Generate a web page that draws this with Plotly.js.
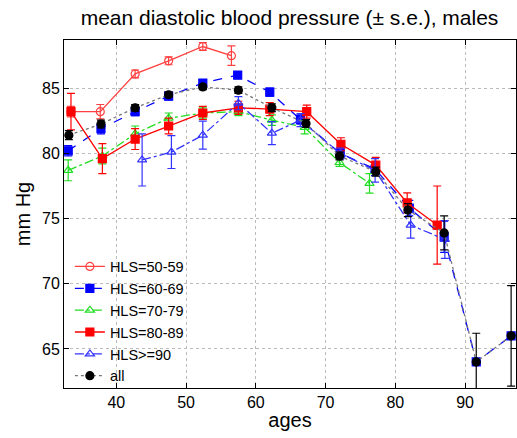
<!DOCTYPE html>
<html>
<head>
<meta charset="utf-8">
<script src="https://cdn.plot.ly/plotly-3.0.1.min.js"></script>
<style>html,body{margin:0;padding:0;background:#fff;}#chart{width:517px;height:438px;}</style>
</head>
<body>
<div id="chart"></div>
<script>
// HLS=50-59
const x5059 = [33.5, 37.7, 42.7, 47.5, 52.4, 56.5];
const y5059 = [83.2, 83.2, 86.1, 87.1, 88.2, 87.5];
const e5059 = [0.4, 0.55, 0.3, 0.3, 0.3, 0.75];
// HLS=60-69
const x6069 = [33.1, 37.8, 42.7, 47.5, 52.4, 57.4, 62.0, 66.4, 72.1, 77.1, 82.0, 87.0, 91.6, 96.6];
const y6069 = [80.2, 81.9, 83.2, 84.4, 85.4, 86.0, 84.7, 82.6, 80.0, 78.8, 75.8, 73.6, 64.0, 66.0];
const e6069 = [0.4, 0.4, 0.3, 0.3, 0.25, 0.25, 0.3, 0.35, 0.4, 0.5, 0.6, 1.2, 0, 0];
// HLS=70-79
const x7079 = [33.1, 38.0, 42.7, 47.5, 52.4, 57.5, 62.3, 67.0, 72.0, 76.3];
const y7079 = [78.7, 79.8, 81.5, 82.7, 83.1, 83.2, 82.55, 82.0, 79.3, 77.7];
const e7079 = [0.8, 0.6, 0.6, 0.4, 0.4, 0.3, 0.4, 0.5, 0.3, 0.75];
// HLS=80-89
const x8089 = [33.5, 38.0, 42.7, 47.5, 52.4, 57.5, 62.0, 67.3, 72.2, 77.2, 81.7, 86.0];
const y8089 = [83.2, 79.6, 81.1, 82.1, 83.1, 83.5, 83.4, 83.2, 80.7, 79.1, 76.2, 74.5];
const e8089 = [1.4, 1.15, 0.8, 0.6, 0.5, 0.5, 0.5, 0.5, 0.5, 0.6, 0.77, 3.0];
// HLS>=90
const x90 = [43.7, 47.9, 52.4, 57.5, 62.3, 66.4, 72.1, 77.1, 82.2, 87.1];
const y90 = [79.5, 80.1, 81.4, 83.85, 81.55, 82.55, 80.0, 78.7, 74.5, 73.4];
const e90 = [2.0, 1.26, 1.07, 0.5, 0.88, 0.5, 0.4, 0.9, 1.0, 1.45];
// all
const xAll = [33.2, 37.8, 42.7, 47.5, 52.4, 57.5, 62.3, 67.2, 72.0, 77.2, 81.8, 87.0, 91.6, 96.6];
const yAll = [81.4, 82.25, 83.5, 84.5, 85.1, 84.85, 83.5, 82.3, 79.8, 78.6, 75.65, 73.9, 64.0, 66.0];
const eAll = [0.35, 0.3, 0.25, 0.2, 0.2, 0.25, 0.3, 0.3, 0.3, 0.35, 0.5, 1.3, 2.2, 3.85];

function tr(name, x, y, e, color, dash, symbol, lineColor) {
  return {
    type: 'scatter', mode: 'lines+markers', name: name, x: x, y: y,
    line: {color: lineColor || color, width: 1.3, dash: dash},
    marker: {color: color, symbol: symbol, size: 8, line: {color: color, width: 1.2}},
    error_y: {type: 'data', array: e, visible: true, color: color, thickness: 1.2, width: 4},
    cliponaxis: true
  };
}

const data = [
  tr('HLS=50-59', x5059, y5059, e5059, '#ff4040', 'solid', 'circle-open'),
  tr('HLS=60-69', x6069, y6069, e6069, '#0000ff', 'dash', 'square'),
  tr('HLS=70-79', x7079, y7079, e7079, '#22dd22', 'dashdot', 'triangle-up-open'),
  tr('HLS=80-89', x8089, y8089, e8089, '#ff0000', 'solid', 'square'),
  tr('HLS>=90', x90, y90, e90, '#3333ff', 'dashdot', 'triangle-up-open'),
  tr('all', xAll, yAll, eAll, '#000000', 'dot', 'circle', '#777777')
];

const FONT = 'Liberation Sans, Arial, sans-serif';
const axisCommon = {
  showline: true, linecolor: '#000', linewidth: 1, mirror: 'ticks',
  ticks: 'inside', ticklen: 5, tickcolor: '#000',
  showgrid: true, gridcolor: '#bbbbbb', griddash: 'dot', gridwidth: 1,
  zeroline: false,
  tickfont: {family: FONT, size: 16, color: '#000'}
};

const layout = {
  width: 517, height: 438,
  margin: {l: 64, r: 1, t: 40, b: 50},
  paper_bgcolor: '#fff', plot_bgcolor: '#fff',
  title: {text: 'mean diastolic blood pressure (± s.e.), males',
          font: {family: FONT, size: 21, color: '#000'},
          x: 0.56, xanchor: 'center', y: 0.96, yanchor: 'middle'},
  xaxis: Object.assign({}, axisCommon, {
    range: [32.5, 97.3], tickvals: [40, 50, 60, 70, 80, 90],
    title: {text: 'ages', font: {family: FONT, size: 20, color: '#000'}, standoff: 2}
  }),
  yaxis: Object.assign({}, axisCommon, {
    range: [62.0, 88.7], tickvals: [65, 70, 75, 80, 85],
    title: {text: 'mm Hg', font: {family: FONT, size: 20, color: '#000'}, standoff: 6}
  }),
  showlegend: true,
  legend: {x: 0.013, y: 0.395, xanchor: 'left', yanchor: 'top',
           bgcolor: 'rgba(255,255,255,0)', borderwidth: 0,
           font: {family: FONT, size: 14.5, color: '#000'},
           tracegroupgap: 0, itemwidth: 30}
};

Plotly.newPlot('chart', data, layout, {displayModeBar: false, staticPlot: true});
</script>
</body>
</html>
